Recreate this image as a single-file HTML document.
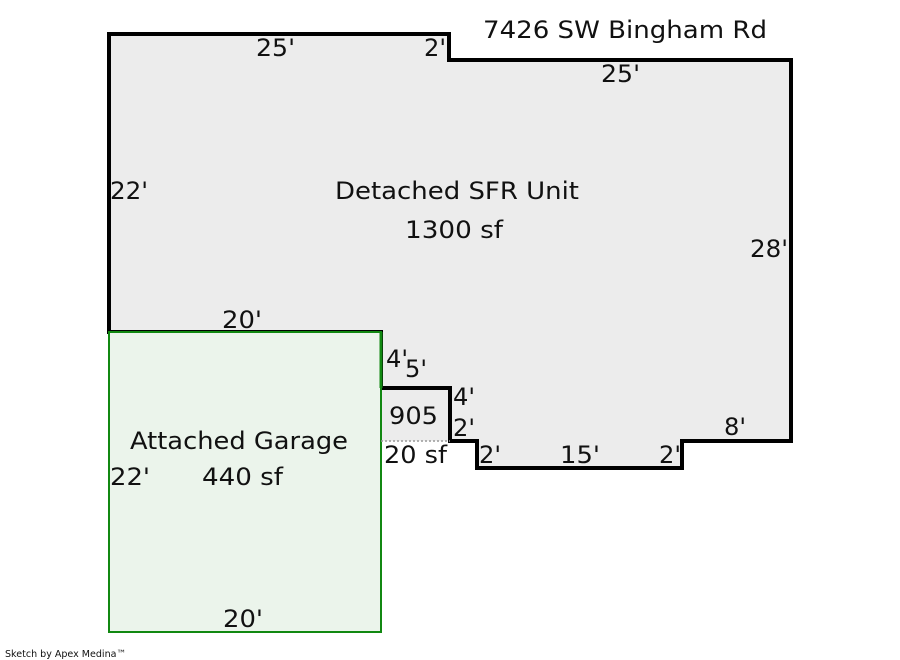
<!DOCTYPE html>
<html><head><style>body{margin:0;background:#fff}svg{display:block}text{font-family:"DejaVu Sans","Liberation Sans",sans-serif;font-size:24px;fill:#111}</style></head>
<body>
<svg width="900" height="660" viewBox="0 0 900 660" xmlns="http://www.w3.org/2000/svg">
<rect x="381" y="388" width="69" height="53" fill="#ececec"/>
<polygon points="109,34 449,34 449,60 791,60 791,441 682,441 682,468 477,468 477,441 450,441 450,388 381,388 381,332 109,332" fill="#ececec" stroke="#000" stroke-width="4" stroke-linejoin="miter"/>
<rect x="109" y="332" width="272" height="300" fill="#ebf4eb" stroke="#118811" stroke-width="2"/>
<line x1="381" y1="332" x2="381" y2="388" stroke="#118811" stroke-width="3"/>
<line x1="381" y1="441" x2="450" y2="441" stroke="#999" stroke-width="1.5" stroke-dasharray="2,2"/>
<g>
<text x="483" y="38" textLength="284" lengthAdjust="spacingAndGlyphs">7426 SW Bingham Rd</text>
<text x="256" y="56" textLength="39" lengthAdjust="spacingAndGlyphs">25'</text>
<text x="424" y="56" textLength="22" lengthAdjust="spacingAndGlyphs">2'</text>
<text x="601" y="82" textLength="39" lengthAdjust="spacingAndGlyphs">25'</text>
<text x="110" y="199" textLength="38" lengthAdjust="spacingAndGlyphs">22'</text>
<text x="335" y="199" textLength="244" lengthAdjust="spacingAndGlyphs">Detached SFR Unit</text>
<text x="405" y="238" textLength="98" lengthAdjust="spacingAndGlyphs">1300 sf</text>
<text x="750" y="257" textLength="38" lengthAdjust="spacingAndGlyphs">28'</text>
<text x="222" y="328" textLength="40" lengthAdjust="spacingAndGlyphs">20'</text>
<text x="386" y="367" textLength="22" lengthAdjust="spacingAndGlyphs">4'</text>
<text x="405" y="377" textLength="22" lengthAdjust="spacingAndGlyphs">5'</text>
<text x="389" y="424" textLength="49" lengthAdjust="spacingAndGlyphs">905</text>
<text x="453" y="405" textLength="22" lengthAdjust="spacingAndGlyphs">4'</text>
<text x="453" y="436" textLength="22" lengthAdjust="spacingAndGlyphs">2'</text>
<text x="384" y="463" textLength="63" lengthAdjust="spacingAndGlyphs">20 sf</text>
<text x="479" y="463" textLength="22" lengthAdjust="spacingAndGlyphs">2'</text>
<text x="560" y="463" textLength="40" lengthAdjust="spacingAndGlyphs">15'</text>
<text x="659" y="463" textLength="22" lengthAdjust="spacingAndGlyphs">2'</text>
<text x="724" y="435" textLength="22" lengthAdjust="spacingAndGlyphs">8'</text>
<text x="130" y="449" textLength="218" lengthAdjust="spacingAndGlyphs">Attached Garage</text>
<text x="110" y="485" textLength="40" lengthAdjust="spacingAndGlyphs">22'</text>
<text x="202" y="485" textLength="81" lengthAdjust="spacingAndGlyphs">440 sf</text>
<text x="223" y="627" textLength="40" lengthAdjust="spacingAndGlyphs">20'</text>
<text x="5" y="657" style="font-size:10px" textLength="121" lengthAdjust="spacingAndGlyphs">Sketch by Apex Medina™</text>
</g>
</svg>
</body></html>
